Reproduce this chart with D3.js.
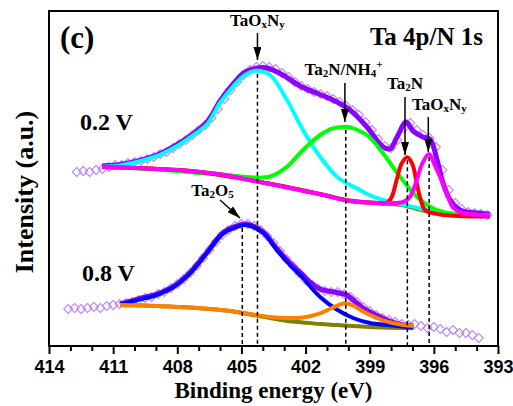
<!DOCTYPE html>
<html lang="en">
<head>
<meta charset="utf-8">
<title>Ta 4p/N 1s XPS</title>
<script src="https://cdnjs.cloudflare.com/ajax/libs/d3/7.8.5/d3.min.js"></script>
<style>
  body { margin: 0; background: #fff; }
  svg { display: block; }
</style>
</head>
<body>
<script>

// measured points (binding energy grid in eV, intensity in a.u.)
var upperE = d3.range(412.7, 393.45, -0.3);
var upperData = [174,175,174,176,177,179,181,181,183,184,185,187,189,192,194,198,202,206,211,216,
  221,228,237,247,256,264,271,276,279,280,279,277,273,269,264,260,257,254,252,250,
  247,244,240,236,231,224,216,207,200,198,206,218,223,216,211,208,199,176,156,143,
  137,134,133,132,131];

var lowerE = d3.range(413.1, 393.85, -0.3);
var lowerData = [37,38,37,38,39,38,40,41,42,43,44,46,48,49,52,54,58,62,67,73,
  80,88,96,104,111,116,120,122,122,120,116,110,103,95,87,80,73,66,61,57,
  55,54,54,52,49,44,39,35,31,28,26,24,22,21,22,20,18,19,17,14,
  16,13,13,11,8];

// fitted curves, 0.2 V  [eV, intensity]
var upperFit = [[411.52,180],[410.54,182],[408.95,191],[408.2,199],[407.4,210],[406.6,224],[406.0,245],
  [405.39,262],[404.83,274],[404.27,278],[403.8,278],[403.06,271],[402.26,260],[401.46,252.7],
  [400.72,246],[399.92,236],[399.13,219],[398.38,199.3],[398.05,197],[397.72,209],[397.3,224],
  [396.97,215],[396.5,209],[396.18,207],[395.85,186],[395.57,163],[395.24,146],[394.78,136],
  [393.7,132.5],[393.37,131.7]];
var upperBg = [[411.52,179],[408.95,177],[407.4,175],[405.53,170.5],[404.46,165.5],[402.87,159],
  [401.32,152],[399.92,145.5],[398.38,142.5],[397.4,140.5],[396.8,137],[396.2,134],[395.24,131.5],
  [393.37,130.5]];
var upperCyan = [[411.52,179],[410.54,181],[408.95,190],[408.2,197.7],[407.4,208.7],[406.6,222],
  [406.0,243],[405.39,259.3],[404.83,271],[404.27,275.3],[403.66,271],[402.87,246],[402.12,216],
  [401.32,189.3],[400.53,169.3],[399.92,161],[399.45,156],[399.13,152],[398.38,146],[397.58,142],
  [396.79,138.3],[396.04,134.3],[394.78,131.5],[393.37,130.3]];
var upperGreen = [[411.52,179],[408.95,176.5],[406.94,173],[405.53,170.5],[404.46,168.5],[403.66,169.5],
  [402.87,179.3],[402.12,196],[401.32,211],[400.72,217.7],[400.11,219.3],[399.92,218.7],[399.13,211],
  [398.38,192.7],[397.58,169.3],[396.79,149.3],[396.04,137.7],[395.24,132.7],[393.37,131]];
var upperRed = [[411.52,179],[407.4,175],[404.46,165.3],[401.32,151.7],[399.92,145],[398.6,143],
  [398.2,143],[397.97,149],[397.74,166],[397.5,182.7],[397.24,188.7],[396.99,181],[396.8,162.7],
  [396.61,146],[396.41,136],[395.71,131.5],[393.37,129.5]];
var upperMagenta = [[411.52,179],[408.95,177],[407.4,175],[405.53,170],[404.46,165.3],[402.87,158.7],
  [401.32,151.7],[399.92,145],[398.38,143],[397.43,144],[397.12,149],[396.8,166],[396.57,181],
  [396.23,192],[396.0,183],[395.71,169],[395.4,153],[395.09,138],[394.64,133],[393.37,130.5]];

// fitted curves, 0.8 V
var lowerFit = [[410.68,42],[409.74,47.5],[408.96,52],[408.19,59.5],[407.4,73.5],[406.62,93.5],
  [405.85,113.5],[405.22,120],[404.79,122],[403.98,114],[403.35,97.5],[402.73,83],[402.12,71],
  [401.8,64],[401.32,57],[400.54,53.5],[400.07,51],[399.77,46],[399.31,38],[398.99,34],
  [398.19,26],[397.44,21],[396.96,20]];
var lowerBg = [[410.68,41],[408.95,40],[407.4,38.5],[405.53,35],[404.46,31],[403.66,28],[402.87,25],
  [402.12,23.5],[401.32,22],[400.54,21],[399.78,20],[398.99,19],[398.06,18.3],[396.96,17.7]];
var lowerBlue = [[410.68,41.5],[409.74,46.7],[408.96,51],[408.19,58.7],[407.4,72.7],[406.62,92.7],
  [405.85,112.7],[405.22,119],[404.79,121],[403.98,113],[403.35,96],[402.73,81],[402.12,68],
  [401.8,60],[401.32,49],[400.54,36.5],[399.78,28],[398.99,23],[398.19,21],[397.44,19.3],[396.96,18.5]];
var lowerOrange = [[410.68,41],[408.95,40],[407.4,38.5],[405.53,35],[404.46,31.5],[403.66,29],
  [402.87,28],[402.12,28.5],[401.32,32.7],[400.72,38.5],[400.16,42.7],[399.78,40.5],[399.31,34.5],
  [398.99,31],[398.19,24.3],[397.44,21],[396.96,20]];

// peak positions marked by dashed lines (eV)
var peakE = [404.25, 400.12, 397.24, 396.22, 404.96];
var majorTicks = [414, 411, 408, 405, 402, 399, 396, 393];

var w = 513, h = 406;
var plotL = 49, plotR = 498, plotT = 11, plotB = 346;

var x = d3.scaleLinear().domain([414, 393]).range([plotL, plotR]);
var y = d3.scaleLinear().domain([0, 335]).range([plotB, plotT]);

var svg = d3.select('body').append('svg')
  .attr('width', w)
  .attr('height', h);

var line = d3.line()
  .x(d => x(d[0]))
  .y(d => y(d[1]))
  .curve(d3.curveCatmullRom.alpha(0.5));

// raw data as open diamonds
function dots(es, vs) {
  svg.append('g')
      .attr('fill', 'none')
      .attr('stroke', '#b87cff')
      .attr('stroke-width', 1)
    .selectAll('path')
    .data(vs)
    .join('path')
      .attr('d', d3.symbol(d3.symbolSquare, 40))
      .attr('transform', (d, i) => `translate(${x(es[i])},${y(d)}) rotate(45)`);
}
dots(upperE, upperData);
dots(lowerE, lowerData);

function curve(pts, color, width) {
  svg.append('path')
    .datum(pts)
    .attr('fill', 'none')
    .attr('stroke', color)
    .attr('stroke-width', width)
    .attr('stroke-linejoin', 'round')
    .attr('d', line);
}

curve(upperFit, '#8b00ff', 5);
curve(upperBg, '#808000', 4);
curve(upperCyan, '#00ffff', 4);
curve(upperGreen, '#00ff00', 4);
curve(upperRed, '#ff0000', 4);
curve(upperMagenta, '#ff00ff', 4);

curve(lowerFit, '#8b00ff', 5);
curve(lowerBg, '#808000', 4);
curve(lowerBlue, '#0000ff', 4);
curve(lowerOrange, '#ff8000', 4);

// dashed markers from each component peak down to the axis
var peakComps = [upperCyan, upperGreen, upperRed, upperMagenta, lowerBlue];
svg.append('g')
    .attr('stroke', '#000')
    .attr('stroke-width', 1.5)
    .attr('stroke-dasharray', '4,3')
  .selectAll('line')
  .data(peakE)
  .join('line')
    .attr('x1', d => x(d))
    .attr('x2', d => x(d))
    .attr('y1', (d, i) => y(d3.max(peakComps[i], p => p[1])) + 3)
    .attr('y2', plotB);

// arrows + labels
svg.append('defs').append('marker')
    .attr('id', 'head')
    .attr('markerUnits', 'userSpaceOnUse')
    .attr('markerWidth', 13)
    .attr('markerHeight', 8)
    .attr('refX', 13)
    .attr('refY', 4)
    .attr('orient', 'auto')
  .append('path')
    .attr('d', 'M0,0L13,4L0,8Z')
    .attr('fill', '#000');

var arrows = [
  [404.25, 313, 404.25, 286],
  [400.16, 263, 400.16, 224],
  [397.35, 249, 397.35, 191],
  [396.26, 229, 396.26, 194],
  [406.0, 146, 405.07, 128]
];
svg.append('g')
    .attr('stroke', '#000')
    .attr('stroke-width', 1.5)
  .selectAll('line')
  .data(arrows)
  .join('line')
    .attr('x1', d => x(d[0]))
    .attr('y1', d => y(d[1]))
    .attr('x2', d => x(d[2]))
    .attr('y2', d => y(d[3]))
    .attr('marker-end', 'url(#head)');

var labels = [
  {e: 404.25, v: 320, parts: [['TaO'], ['x', 'sub'], ['N'], ['y', 'sub']]},
  {e: 400.23, v: 271, parts: [['Ta'], ['2', 'sub'], ['N/NH'], ['4', 'sub'], ['+', 'sup']]},
  {e: 397.35, v: 257, parts: [['Ta'], ['2', 'sub'], ['N']]},
  {e: 395.74, v: 236, parts: [['TaO'], ['x', 'sub'], ['N'], ['y', 'sub']]},
  {e: 406.35, v: 150, parts: [['Ta'], ['2', 'sub'], ['O'], ['5', 'sub']]}
];

labels.forEach(function(l) {
  var t = svg.append('text')
    .attr('x', x(l.e))
    .attr('y', y(l.v))
    .attr('text-anchor', 'middle')
    .attr('font-family', '"Liberation Serif", "Times New Roman", serif')
    .attr('font-weight', 'bold')
    .attr('font-size', '17px');
  var shift = 0;
  l.parts.forEach(function(p) {
    var target = p[1] === 'sub' ? 2 : p[1] === 'sup' ? -7 : 0;
    t.append('tspan')
      .attr('dy', target - shift)
      .attr('font-size', p[1] ? '11px' : null)
      .text(p[0]);
    shift = target;
  });
});

var serif = '"Liberation Serif", "Times New Roman", serif';
svg.append('text')
  .attr('x', 60).attr('y', 48)
  .attr('font-family', serif).attr('font-weight', 'bold').attr('font-size', '31px')
  .text('(c)');
svg.append('text')
  .attr('x', 483).attr('y', 45)
  .attr('text-anchor', 'end')
  .attr('font-family', serif).attr('font-weight', 'bold').attr('font-size', '25px')
  .text('Ta 4p/N 1s');
svg.append('text')
  .attr('x', 80).attr('y', 130)
  .attr('font-family', serif).attr('font-weight', 'bold').attr('font-size', '24px')
  .text('0.2 V');
svg.append('text')
  .attr('x', 82).attr('y', 281)
  .attr('font-family', serif).attr('font-weight', 'bold').attr('font-size', '24px')
  .text('0.8 V');

// axes
var minorTicks = d3.range(414, 392.5, -1).filter(d => majorTicks.indexOf(d) < 0);

svg.append('g')
    .attr('transform', `translate(0,${plotB})`)
    .call(d3.axisBottom(x).tickValues(minorTicks).tickSize(5).tickFormat(''))
    .call(g => g.select('.domain').remove())
    .call(g => g.selectAll('line').attr('stroke-width', 2));

svg.append('g')
    .attr('transform', `translate(0,${plotB})`)
    .call(d3.axisBottom(x).tickValues(majorTicks).tickSize(8).tickPadding(6).tickFormat(d3.format('d')))
    .call(g => g.select('.domain').remove())
    .call(g => g.selectAll('line').attr('stroke-width', 2))
    .call(g => g.selectAll('text')
      .attr('font-family', '"Liberation Sans", Arial, sans-serif')
      .attr('font-weight', 'bold')
      .attr('font-size', '18px')
      .attr('fill', '#000'));

svg.append('rect')
  .attr('x', plotL).attr('y', plotT)
  .attr('width', plotR - plotL).attr('height', plotB - plotT)
  .attr('fill', 'none')
  .attr('stroke', '#000')
  .attr('stroke-width', 2);

svg.append('text')
  .attr('x', (plotL + plotR) / 2).attr('y', 398)
  .attr('text-anchor', 'middle')
  .attr('font-family', serif).attr('font-weight', 'bold').attr('font-size', '23px')
  .text('Binding energy (eV)');

svg.append('text')
  .attr('transform', 'translate(33,192) rotate(-90)')
  .attr('text-anchor', 'middle')
  .attr('font-family', serif).attr('font-weight', 'bold').attr('font-size', '26px')
  .text('Intensity (a.u.)');

</script>
</body>
</html>
